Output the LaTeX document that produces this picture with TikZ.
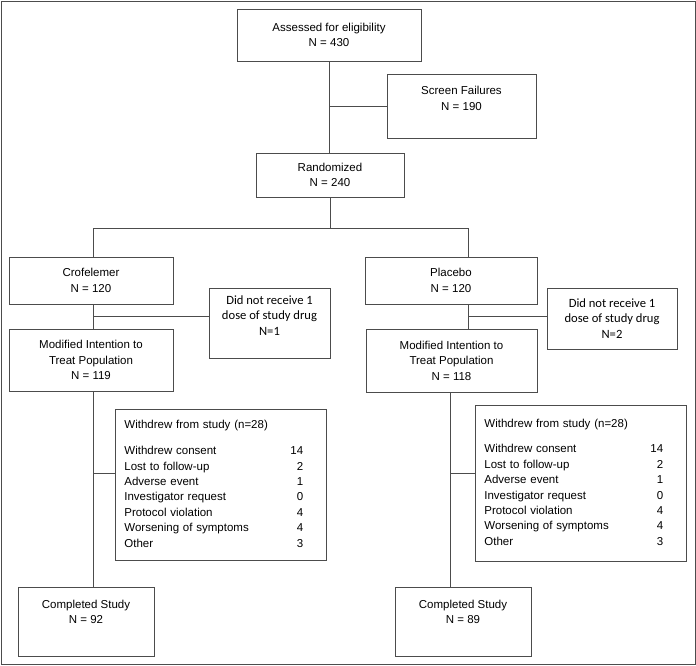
\documentclass[tikz,border=0pt]{standalone}
\usepackage{fontspec}
\setmainfont{Liberation Sans}
\newfontfamily\calibri{Carlito}
\usetikzlibrary{calc}

\begin{document}
\begin{tikzpicture}[x=1pt,y=-1pt,
  box/.style={draw=black!70, line width=0.8pt, align=center, inner sep=2pt, font=\fontsize{11.5}{15.4}\selectfont},
  dnrbox/.style={box, font=\calibri\fontsize{12.6}{15.5}\selectfont},
  wdbox/.style={draw=black!70, line width=0.8pt, anchor=north west, inner xsep=9pt, text width=193pt, align=left, font=\fontsize{11.5}{15.4}\selectfont},
  link/.style={draw=black!70, line width=0.8pt}]

\useasboundingbox (0,0) rectangle (696,665);
\draw[black!70, line width=0.8pt] (1,1) rectangle (695,664);

% top of the chart
\node at (329,35) [box, minimum width=184pt, minimum height=52pt] (assess) {Assessed for eligibility\\N = 430};
\node at (461.5,106) [box, minimum width=149pt, minimum height=64pt] (screen) {Screen Failures\\N = 190\\\mbox{}};
\node at (330,175) [box, minimum width=148pt, minimum height=44pt] (rand) {Randomized\\N = 240};

% arms
\node at (91,280.5) [box, minimum width=164pt, minimum height=47pt] (crof) {Crofelemer\\N = 120};
\node at (451,280.5) [box, minimum width=172pt, minimum height=47pt] (plac) {Placebo\\N = 120};
\node at (269.5,323) [dnrbox, minimum width=121pt, minimum height=70pt] (dnr1) {Did not receive 1\\dose of study drug\\N=1\\\mbox{}};
\node at (612,318.5) [dnrbox, minimum width=130pt, minimum height=61pt] (dnr2) {Did not receive 1\\dose of study drug\\N=2};
\node at (91,360) [box, minimum width=164pt, minimum height=62pt] (mitt1) {Modified Intention to\\Treat Population\\N = 119};
\node at (451.5,360.5) [box, minimum width=171pt, minimum height=63pt] (mitt2) {Modified Intention to\\Treat Population\\N = 118};

% withdrawals
\node at (115,409) [wdbox, minimum height=151pt] (wd1) {\begin{tabular}{@{}p{166pt}@{}r@{}}
\multicolumn{2}{@{}l@{}}{Withdrew from study (n=28)}\\[10.6pt]
Withdrew consent & 14\\
Lost to follow-up & 2\\
Adverse event & 1\\
Investigator request & 0\\
Protocol violation & 4\\
Worsening of symptoms & 4\\
Other & 3
\end{tabular}};
\node at (475,405) [wdbox, minimum height=156pt] (wd2) {\begin{tabular}{@{}p{166pt}@{}r@{}}
\multicolumn{2}{@{}l@{}}{Withdrew from study (n=28)}\\[10pt]
Withdrew consent & 14\\
Lost to follow-up & 2\\
Adverse event & 1\\
Investigator request & 0\\
Protocol violation & 4\\
Worsening of symptoms & 4\\
Other & 3
\end{tabular}};

% completers
\node at (86,621.5) [box, minimum width=136pt, minimum height=69pt] (done1) {Completed Study\\N = 92\\[4pt]\mbox{}};
\node at (463,621.5) [box, minimum width=136pt, minimum height=69pt] (done2) {Completed Study\\N = 89\\[4pt]\mbox{}};

% connectors
\coordinate (cL) at (93,228);
\coordinate (cR) at (468,228);
\coordinate (dL) at (93,473);
\coordinate (dR) at (450,473);
\coordinate (gap) at ($(crof.south)!.5!(mitt1.north)$);

\draw[link] (assess.south) -- (assess.south |- rand.north);
\draw[link] (assess.south |- screen.west) -- (screen.west);
\draw[link] (rand.south) -- (rand.south |- cR);
\draw[link] (cL) -- (cR);
\draw[link] (cL) -- (cL |- crof.north);
\draw[link] (cR) -- (cR |- plac.north);
\draw[link] (cL |- crof.south) -- (cL |- mitt1.north);
\draw[link] (cR |- plac.south) -- (cR |- mitt2.north);
\draw[link] (cL |- gap) -- (dnr1.west |- gap);
\draw[link] (cR |- gap) -- (dnr2.west |- gap);
\draw[link] (dL |- mitt1.south) -- (dL |- done1.north);
\draw[link] (dR |- mitt2.south) -- (dR |- done2.north);
\draw[link] (dL) -- (wd1.west |- dL);
\draw[link] (dR) -- (wd2.west |- dR);

\end{tikzpicture}
\end{document}
